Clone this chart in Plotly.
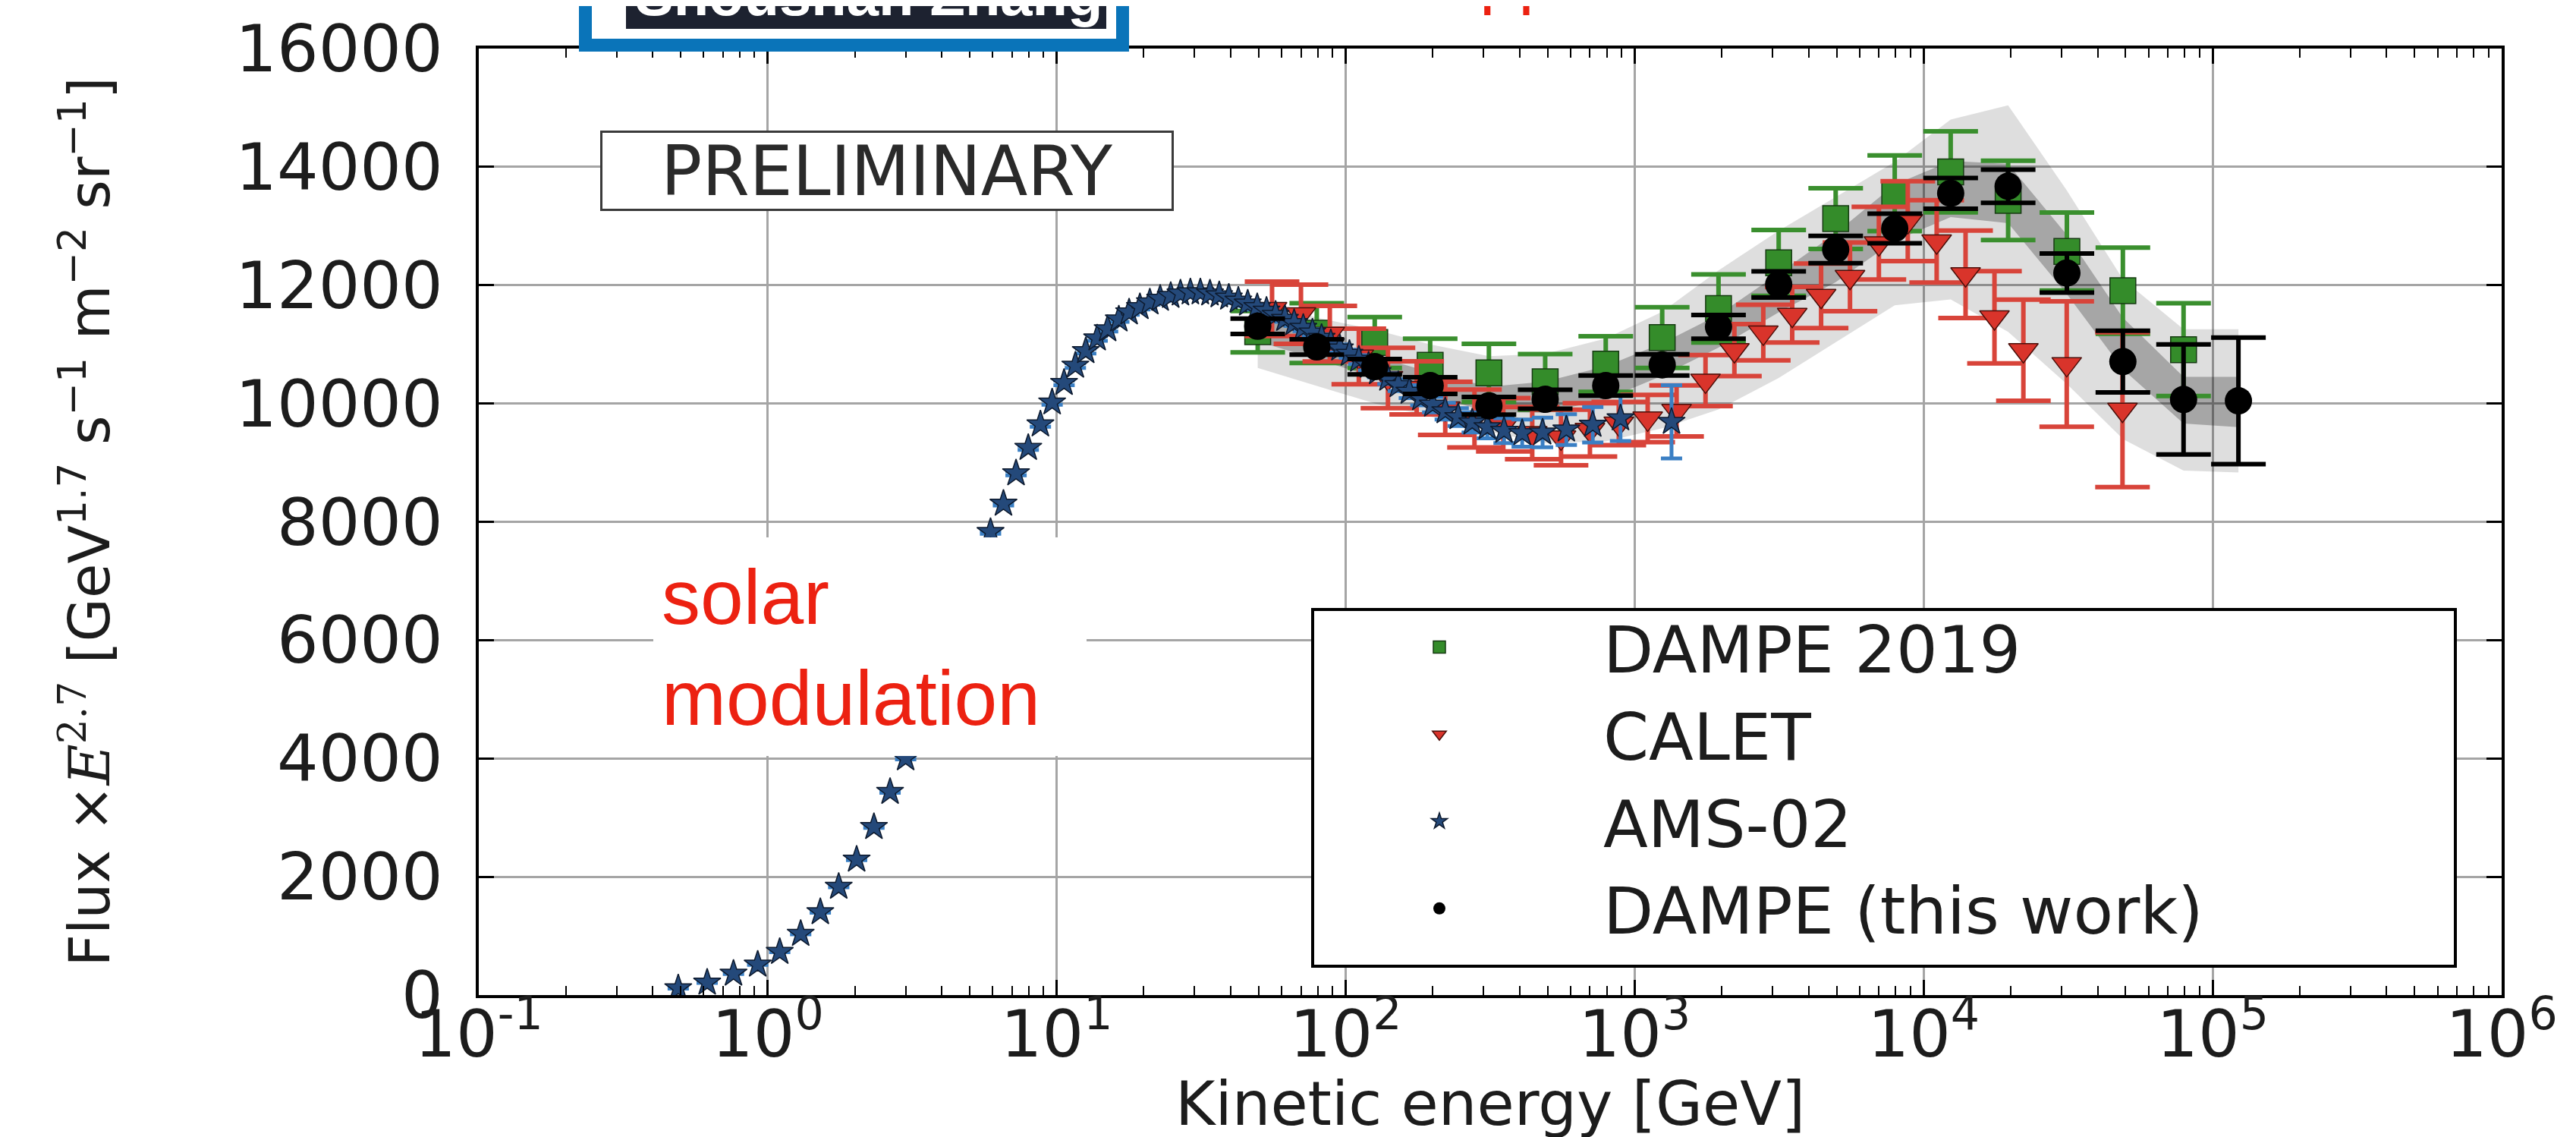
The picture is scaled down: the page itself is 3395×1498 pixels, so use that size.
import plotly.graph_objects as go

# ---------------- data ----------------
# AMS-02 (kinetic energy in GeV, flux x E^2.7)
ams_E = [0.49, 0.617, 0.761, 0.923, 1.10, 1.30, 1.52, 1.76, 2.03, 2.33, 2.65, 3.00,
         3.38, 3.80, 4.27, 4.77, 5.31, 5.90, 6.54, 7.23, 7.97, 8.78, 9.64, 10.6,
         11.6, 12.6, 13.8, 15.0, 16.4, 17.8, 19.4, 21.0, 22.8, 24.8, 26.8, 29.0,
         31.4, 33.9, 36.5, 39.4, 42.5, 45.8, 49.4, 53.2, 57.2, 61.6, 66.3, 71.3,
         76.7, 82.5, 88.8, 95.5, 103, 111, 120, 129, 140, 152, 166, 182,
         200, 221, 245, 274, 309, 353, 408, 480, 580, 716, 893, 1341]
ams_flux = [115, 209, 362, 514, 729, 1035, 1402, 1831, 2290, 2841, 3435, 4003,
            4650, 5300, 5950, 6600, 7250, 7828, 8306, 8820, 9250, 9646, 10018, 10348,
            10640, 10886, 11100, 11256, 11420, 11540, 11630, 11710, 11770, 11820, 11860, 11880,
            11880, 11860, 11830, 11790, 11740, 11690, 11630, 11570, 11500, 11430, 11360, 11280,
            11200, 11110, 11020, 10930, 10840, 10740, 10640, 10530, 10420, 10310, 10200, 10090,
            9980, 9870, 9770, 9680, 9600, 9540, 9500, 9510, 9560, 9640, 9750, 9690]
ams_err = [5, 5, 5, 5, 5, 10, 10, 10, 10, 15, 15, 20,
           20, 20, 25, 25, 30, 30, 30, 35, 35, 40, 40, 40,
           40, 40, 40, 40, 40, 40, 40, 40, 40, 40, 40, 40,
           40, 40, 40, 40, 40, 40, 40, 45, 45, 50, 50, 55,
           60, 60, 65, 70, 70, 75, 80, 85, 90, 100, 110, 120,
           130, 140, 150, 170, 190, 210, 230, 250, 260, 300, 385, 620]

# CALET
calet_E = [55.6, 70.0, 88.1, 111, 140, 176, 221, 279, 351, 442, 556, 700, 881, 1109,
           1396, 1758, 2213, 2786, 3508, 4416, 5559, 6998, 8810, 11091, 13963, 17579,
           22131, 31260, 48750]
calet_flux = [11600, 11510, 11180, 10795, 10430, 10264, 9918, 9747, 9640, 9500, 9426,
              9555, 9662, 9747, 9875, 10388, 10902, 11200, 11500, 11821, 12141, 12710,
              13083, 12741, 12185, 11458, 10902, 10667, 9896]
calet_err = [460, 500, 470, 470, 510, 450, 450, 490, 450, 440, 470, 450, 365, 400,
             430, 430, 440, 470, 470, 545, 580, 615, 675, 695, 740, 780, 855, 1060, 1310]

# DAMPE 2019
dampe19_E = [49.6, 79.4, 126, 196, 313, 490, 794, 1245, 1950, 3150, 4960, 7940,
             12400, 19600, 31300, 48900, 79300]
dampe19_flux = [11213, 11190, 11030, 10645, 10518, 10367, 10667, 11116, 11607, 12377,
                13125, 13553, 13916, 13433, 12570, 11907, 10910]
dampe19_err = [350, 505, 430, 450, 490, 470, 470, 513, 577, 556, 513, 640, 684, 670,
               660, 728, 784]

# DAMPE (this work)
dampe_E = [49.6, 79.4, 126, 196, 313, 490, 794, 1245, 1950, 3150, 4960, 7940,
           12400, 19600, 31300, 48900, 79300, 122800]
dampe_flux = [11307, 10957, 10623, 10303, 9961, 10072, 10303, 10653, 11295, 12013,
              12603, 12960, 13553, 13673, 12206, 10709, 10068, 10046]
dampe_err = [130, 130, 130, 140, 150, 160, 170, 180, 200, 220, 230, 250, 260, 280,
             330, 520, 930, 1070]

# uncertainty bands of DAMPE (this work)
band_E = dampe_E
band_dark_lo = [11050, 10750, 10440, 10140, 9855, 9845, 10070, 10470, 10945, 11540,
                12050, 12750, 13150, 13050, 11850, 10580, 9660, 9600]
band_dark_hi = [11550, 11150, 10800, 10530, 10285, 10370, 10630, 11020, 11500, 12200,
                12880, 13700, 14100, 14050, 12850, 11450, 10450, 10450]
band_light_lo = [10600, 10300, 10000, 9780, 9520, 9330, 9360, 9580, 9900, 10430,
                 11030, 11660, 11760, 11210, 10330, 9400, 8866, 8833]
band_light_hi = [11750, 11450, 11250, 11000, 10800, 10840, 11100, 11550, 12250, 12920,
                 13490, 14085, 14800, 15040, 13600, 12100, 11256, 11256]

x_tick_vals = [0.1, 1, 10, 100, 1000, 10000, 100000, 1000000]
x_tick_text = ["10<sup>-1</sup>", "10<sup>0</sup>", "10<sup>1</sup>", "10<sup>2</sup>",
               "10<sup>3</sup>", "10<sup>4</sup>", "10<sup>5</sup>", "10<sup>6</sup>"]
y_tick_vals = [0, 2000, 4000, 6000, 8000, 10000, 12000, 14000, 16000]
y_tick_text = ["0", "2000", "4000", "6000", "8000", "10000", "12000", "14000", "16000"]

# ---------------- layout geometry ----------------
W, H = 3395, 1498
ML, MR, MT, MB = 623, 106, 56, 195
PW = W - ML - MR
PH = H - MT - MB


def px(x):
    return (x - ML) / PW


def py(y):
    return (H - MB - y) / PH


SANS = "DejaVu Sans"
ARIAL = "Liberation Sans, Arial, sans-serif"
TXT = "#1c1c1c"

fig = go.Figure()

# bands
fig.add_trace(go.Scatter(x=band_E, y=band_light_lo, mode="lines", line=dict(width=0),
                         showlegend=False, hoverinfo="skip"))
fig.add_trace(go.Scatter(x=band_E, y=band_light_hi, mode="lines", line=dict(width=0),
                         fill="tonexty", fillcolor="rgba(0,0,0,0.13)",
                         showlegend=False, hoverinfo="skip"))
fig.add_trace(go.Scatter(x=band_E, y=band_dark_lo, mode="lines", line=dict(width=0),
                         showlegend=False, hoverinfo="skip"))
fig.add_trace(go.Scatter(x=band_E, y=band_dark_hi, mode="lines", line=dict(width=0),
                         fill="tonexty", fillcolor="rgba(0,0,0,0.25)",
                         showlegend=False, hoverinfo="skip"))

fig.add_trace(go.Scatter(
    x=dampe19_E, y=dampe19_flux, mode="markers", name="DAMPE 2019",
    marker=dict(symbol="square", size=34, color="#348C2A",
                line=dict(color="#163a12", width=1.5)),
    error_y=dict(type="data", array=dampe19_err, color="#3A8F2E", thickness=6, width=36)))

fig.add_trace(go.Scatter(
    x=calet_E, y=calet_flux, mode="markers", name="CALET",
    marker=dict(symbol="triangle-down", size=34, color="#D9342B",
                line=dict(color="#4a0f0a", width=1.5)),
    error_y=dict(type="data", array=calet_err, color="#D8443A", thickness=6, width=36)))

fig.add_trace(go.Scatter(
    x=ams_E, y=ams_flux, mode="markers", name="AMS-02",
    marker=dict(symbol="star", size=27, color="#24497A",
                line=dict(color="#0d1a2e", width=1.5)),
    error_y=dict(type="data", array=ams_err, color="#3A7FC4", thickness=5, width=14)))

fig.add_trace(go.Scatter(
    x=dampe_E, y=dampe_flux, mode="markers", name="DAMPE (this work)",
    marker=dict(symbol="circle", size=36, color="black"),
    error_y=dict(type="data", array=dampe_err, color="black", thickness=6, width=36)))

axis_common = dict(
    ticks="inside", ticklen=20, tickwidth=3, tickcolor="black",
    mirror="allticks", showline=True, linewidth=4, linecolor="black",
    showgrid=True, gridcolor="#A5A5A5", gridwidth=3, zeroline=False,
    tickfont=dict(family=SANS, size=86, color=TXT),
)

fig.update_xaxes(
    type="log", range=[-1, 6], tickmode="array", tickvals=x_tick_vals,
    ticktext=x_tick_text, ticklabelstandoff=-26,
    minor=dict(dtick="D1", ticks="inside", ticklen=12, tickwidth=2,
               tickcolor="black", showgrid=False),
    **axis_common)

fig.update_yaxes(
    range=[0, 16000], tickmode="array", tickvals=y_tick_vals, ticktext=y_tick_text,
    ticklabelstandoff=26,
    title=dict(text="Flux ×<span style='font-family:DejaVu Serif'><i>E</i><sup>2.7</sup></span>"
                    " [GeV<sup>1.7</sup> s<sup>−1</sup> m<sup>−2</sup> sr<sup>−1</sup>]",
               font=dict(family=SANS, size=74, color=TXT), standoff=142),
    **axis_common)

shapes = [
    # legend frame
    dict(type="rect", xref="paper", yref="paper", x0=px(1722), x1=px(3228),
         y0=py(1265), y1=py(795), fillcolor="white", line=dict(color="black", width=4),
         layer="above"),
    # white box behind the "solar modulation" note
    dict(type="rect", xref="paper", yref="paper", x0=px(853), x1=px(1424),
         y0=py(988), y1=py(700), fillcolor="white", line=dict(width=0), layer="above"),
    # cropped speaker banner at the top
    dict(type="rect", xref="paper", yref="paper", x0=px(755), x1=px(1480),
         y0=py(60), y1=py(-30), fillcolor="#0A74B9", line=dict(width=0), layer="above"),
    dict(type="rect", xref="paper", yref="paper", x0=px(772), x1=px(1463),
         y0=py(43), y1=py(-30), fillcolor="white", line=dict(width=0), layer="above"),
    dict(type="rect", xref="paper", yref="paper", x0=px(817), x1=px(1450),
         y0=py(30), y1=py(-30), fillcolor="#1D2230", line=dict(width=0), layer="above"),
]

annotations = [
    # x-axis title
    dict(text="Kinetic energy [GeV]", xref="paper", yref="paper", x=0.5, y=py(1495),
         xanchor="center", yanchor="bottom", showarrow=False,
         font=dict(family=SANS, size=80, color=TXT)),
    dict(text="PRELIMINARY", xref="paper", yref="paper", x=px(1161), y=py(217),
         xanchor="center", yanchor="middle", showarrow=False, width=750, height=100,
         bgcolor="white", bordercolor="#3a3a3a", borderwidth=3, borderpad=0,
         font=dict(family=SANS, size=90, color="#2a2a2a")),
    dict(text="solar<br>modulation", xref="paper", yref="paper", x=px(862), y=py(720),
         xanchor="left", yanchor="top", align="left", showarrow=False,
         font=dict(family=ARIAL, size=102, color="#EC2111")),
    dict(text="<b>Shoushan Zhang</b>", xref="paper", yref="paper", x=px(1447), y=py(30),
         xanchor="right", yanchor="bottom", showarrow=False,
         font=dict(family=ARIAL, size=76, color="white")),
    dict(text="pp", xref="paper", yref="paper", x=px(1940), y=py(14),
         xanchor="left", yanchor="bottom", showarrow=False,
         font=dict(family=ARIAL, size=92, color="#EC2111")),
]

fig.update_layout(
    width=W, height=H,
    margin=dict(l=ML, r=MR, t=MT, b=MB, autoexpand=False),
    paper_bgcolor="white", plot_bgcolor="white",
    showlegend=True,
    legend=dict(x=px(1673), xanchor="left", y=py(782), yanchor="top",
                traceorder="normal",
                bgcolor="rgba(0,0,0,0)", borderwidth=0, itemwidth=422,
                font=dict(family=SANS, size=86, color=TXT), itemsizing="trace"),
    shapes=shapes, annotations=annotations,
)

fig.write_html("out.html")
